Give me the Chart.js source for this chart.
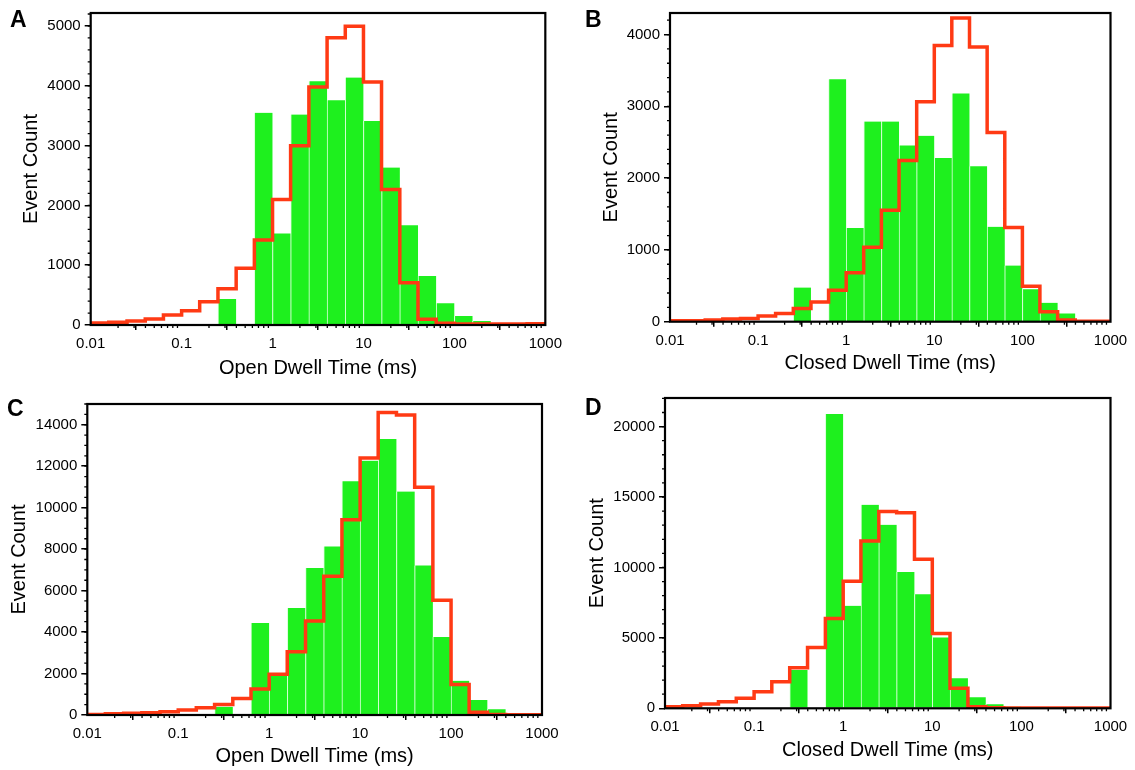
<!DOCTYPE html>
<html>
<head>
<meta charset="utf-8">
<script src="https://cdn.jsdelivr.net/npm/chart.js@4.4.1/dist/chart.umd.min.js"></script>
<style>
  body { margin: 0; background: #fff; }
  #page { position: relative; width: 1135px; height: 770px; overflow: hidden; background: #fff; }
  canvas { position: absolute; }
  .tag { position: absolute; font: bold 23px "Liberation Sans", Arial, sans-serif; line-height: 23px; color: #000; }
</style>
</head>
<body>
<div id="page">
  <canvas id="chartA" width="567" height="385" style="left:0;top:0"></canvas>
  <canvas id="chartB" width="568" height="385" style="left:567px;top:0"></canvas>
  <canvas id="chartC" width="567" height="385" style="left:0;top:385px"></canvas>
  <canvas id="chartD" width="568" height="385" style="left:567px;top:385px"></canvas>
  <div class="tag" style="left:10px;top:8px">A</div>
  <div class="tag" style="left:585px;top:8px">B</div>
  <div class="tag" style="left:7px;top:397px">C</div>
  <div class="tag" style="left:585px;top:396px">D</div>
</div>
<script>
"use strict"

// bin edges (ms), 5 bins per decade from 0.01 to 1000
const binEdges = [0.01, 0.0158, 0.0251, 0.0398, 0.0631, 0.1, 0.158, 0.251, 0.398, 0.631,
                  1, 1.58, 2.51, 3.98, 6.31, 10, 15.8, 25.1, 39.8, 63.1,
                  100, 158, 251, 398, 631, 1000];
const xTicks = [0.01, 0.1, 1, 10, 100, 1000];
const xTickLabels = ["0.01", "0.1", "1", "10", "100", "1000"];

// A - open dwell times
const countsA = [0, 0, 0, 0, 0, 0, 0, 434, 0, 3547, 1531, 3519, 4076, 3758, 4137, 3413, 2634, 1670, 818, 362, 150, 67, 15, 5, 0];
const fitA = [33, 45, 67, 100, 167, 240, 390, 607, 947, 1420, 2099, 2996, 3981, 4805, 4995, 4065, 2266, 707, 95, 28, 15, 15, 15, 18, 20];
const yTicksA = [0, 1000, 2000, 3000, 4000, 5000];

// B - closed dwell times
const countsB = [0, 0, 0, 0, 0, 0, 0, 475, 0, 3378, 1304, 2788, 2788, 2456, 2590, 2281, 3180, 2166, 1323, 783, 452, 263, 115, 10, 0];
const fitB = [14, 14, 23, 37, 46, 78, 115, 184, 276, 438, 682, 1037, 1553, 2244, 3065, 3848, 4230, 3825, 2636, 1313, 493, 138, 23, 5, 5];
const yTicksB = [0, 1000, 2000, 3000, 4000];

// C - open dwell times
const countsC = [0, 0, 0, 0, 0, 0, 0, 400, 0, 4442, 1876, 5163, 7088, 8130, 11273, 12267, 13310, 10776, 7216, 3768, 1652, 722, 273, 5, 0];
const fitC = [30, 60, 80, 110, 160, 240, 350, 510, 800, 1250, 1970, 3047, 4538, 6687, 9413, 12396, 14592, 14464, 10985, 5532, 1475, 128, 30, 10, 10];
const yTicksC = [0, 2000, 4000, 6000, 8000, 10000, 12000, 14000];

// D - closed dwell times
const countsD = [0, 0, 0, 0, 0, 0, 0, 2715, 0, 20897, 7273, 14451, 13034, 9681, 8099, 5030, 2125, 779, 283, 118, 20, 10, 0, 0, 0];
const fitD = [118, 189, 307, 472, 708, 1180, 1889, 2881, 4321, 6375, 9020, 11877, 13979, 13884, 10579, 5313, 1417, 118, 47, 20, 20, 20, 20, 20, 20];
const yTicksD = [0, 5000, 10000, 15000, 20000];

Chart.defaults.font.family = '"Liberation Sans", Arial, sans-serif';
Chart.defaults.color = "#000";

// frame round the plot area plus the small minor ticks
const framePlugin = {
  id: "frame",
  afterDraw(chart) {
    const ctx = chart.ctx;
    const a = chart.chartArea;
    const x = chart.scales.x;
    const y = chart.scales.y;
    const minor = chart.options.plugins.frame.minorStep;
    ctx.save();
    ctx.strokeStyle = "#000";
    ctx.lineWidth = 1.3;
    ctx.beginPath();
    for (let d = 0; d < xTicks.length - 1; d++) {
      for (let m = 2; m < 10; m++) {
        let px = x.getPixelForValue(xTicks[d] * m);
        ctx.moveTo(px, a.bottom);
        ctx.lineTo(px, a.bottom + 3);
      }
    }
    for (let v = minor; v <= y.max; v += minor) {
      let py = y.getPixelForValue(v);
      ctx.moveTo(a.left - 3, py);
      ctx.lineTo(a.left, py);
    }
    ctx.stroke();
    ctx.lineWidth = 2.2;
    ctx.strokeRect(a.left, a.top, a.right - a.left, a.bottom - a.top);
    ctx.restore();
  }
};

function makePanel(id, counts, fit, yTicks, set) {
  let linePoints = [];
  for (let i = 0; i < fit.length; i++) {
    linePoints.push({ x: binEdges[i], y: fit[i] });
  }
  linePoints.push({ x: binEdges[binEdges.length - 1], y: fit[fit.length - 1] });

  let binLabels = [];
  for (let i = 0; i < counts.length; i++) {
    binLabels.push(binEdges[i] + "-" + binEdges[i + 1]);
  }

  new Chart(document.getElementById(id), {
    type: "bar",
    data: {
      labels: binLabels,
      datasets: [
        {
          type: "line",
          data: linePoints,
          xAxisID: "x",
          yAxisID: "y",
          borderColor: "#ff3a14",
          borderWidth: 3.5,
          stepped: true,
          pointRadius: 0,
          fill: false,
          borderJoinStyle: "miter"
        },
        {
          type: "bar",
          data: counts,
          xAxisID: "xc",
          yAxisID: "y",
          grouped: false,
          backgroundColor: "#1ef01e",
          borderColor: "rgba(215,255,215,0.95)",
          borderWidth: { left: 1, right: 0, top: 0, bottom: 0 },
          borderSkipped: false,
          barPercentage: 1,
          categoryPercentage: 1
        }
      ]
    },
    options: {
      responsive: false,
      animation: false,
      devicePixelRatio: 1,
      layout: { padding: { left: 0, top: set.top, right: set.right, bottom: 0 } },
      plugins: {
        legend: { display: false },
        tooltip: { enabled: false },
        frame: { minorStep: set.minor }
      },
      scales: {
        xc: { type: "category", display: false, offset: true },
        x: {
          type: "logarithmic",
          position: "bottom",
          min: 0.01,
          max: 1000,
          afterBuildTicks: (s) => { s.ticks = xTicks.map(v => ({ value: v })); },
          afterFit: (s) => { s.height = set.xh; },
          ticks: {
            autoSkip: false,
            maxRotation: 0,
            padding: 5,
            font: { size: 15 },
            callback: (v, i) => xTickLabels[i]
          },
          grid: { drawOnChartArea: false, drawTicks: true, tickLength: 5, color: "#000", lineWidth: 1.5 },
          border: { display: false },
          title: { display: true, text: set.xTitle, font: { size: 20 }, padding: { top: 0, bottom: set.xtp } }
        },
        y: {
          type: "linear",
          min: 0,
          max: set.ymax,
          afterBuildTicks: (s) => { s.ticks = yTicks.map(v => ({ value: v })); },
          afterFit: (s) => { s.width = set.yw; },
          ticks: { padding: 4, font: { size: 15 }, callback: (v) => String(v) },
          grid: { drawOnChartArea: false, drawTicks: true, tickLength: 6, color: "#000", lineWidth: 1.5 },
          border: { display: false },
          title: { display: true, text: "Event Count", font: { size: 20 }, padding: { top: set.ytp, bottom: 0 } }
        }
      }
    },
    plugins: [framePlugin]
  });
}

makePanel("chartA", countsA, fitA, yTicksA,
  { top: 12.7, right: 20.3, yw: 90.7, xh: 60, ytp: 19, xtp: 5, ymax: 5217, minor: 200, xTitle: "Open Dwell Time (ms)" });
makePanel("chartB", countsB, fitB, yTicksB,
  { top: 10.7, right: 24.5, yw: 103, xh: 63.3, ytp: 32, xtp: 10, ymax: 4300, minor: 200, xTitle: "Closed Dwell Time (ms)" });
makePanel("chartC", countsC, fitC, yTicksC,
  { top: 19, right: 25, yw: 87.3, xh: 55, ytp: 7, xtp: 2, ymax: 15000, minor: 500, xTitle: "Open Dwell Time (ms)" });
makePanel("chartD", countsD, fitD, yTicksD,
  { top: 12.3, right: 24.5, yw: 98, xh: 61.7, ytp: 18, xtp: 8, ymax: 22030, minor: 1000, xTitle: "Closed Dwell Time (ms)" });
</script>
</body>
</html>
